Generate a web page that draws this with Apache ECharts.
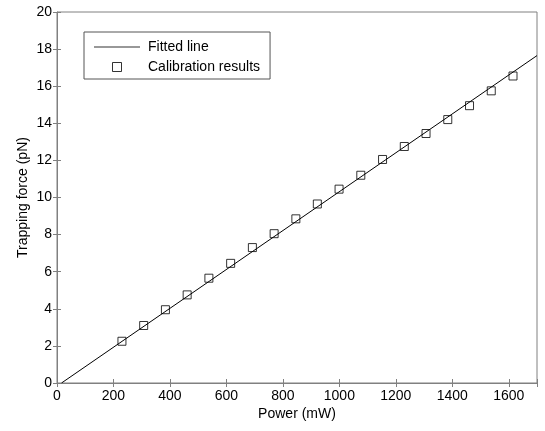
<!DOCTYPE html>
<html>
<head>
<meta charset="utf-8">
<script src="https://cdn.jsdelivr.net/npm/echarts@6/dist/echarts.min.js"></script>
<style>
  html, body { margin: 0; padding: 0; background: #fff; }
  #chart { width: 545px; height: 431px; }
</style>
</head>
<body>
<div id="chart"></div>
<script>
// calibration measurements
const powerMW = [230, 307, 384, 461, 538, 615, 692, 769, 846, 922, 999, 1076, 1153, 1230, 1307, 1384, 1461, 1538, 1615];
const forcePN = [2.25, 3.1, 3.95, 4.75, 5.65, 6.45, 7.3, 8.05, 8.85, 9.65, 10.45, 11.2, 12.05, 12.75, 13.45, 14.2, 14.95, 15.75, 16.55];

// fitted line end points
const fitX = [16, 1700];
const fitY = [0, 17.65];

const axisGray = '#808080';
const font = 'Liberation Sans, Arial, sans-serif';

const chart = echarts.init(document.getElementById('chart'));

const hiddenAxis = (extra) => Object.assign({
    type: 'value',
    axisLine: { show: false },
    axisTick: { show: true, inside: true, length: 4, lineStyle: { color: axisGray } },
    axisLabel: { show: false },
    splitLine: { show: false }
}, extra);

chart.setOption({
    animation: false,
    grid: {
        left: 57, right: 8, top: 12, bottom: 48,
        show: true, borderColor: axisGray, borderWidth: 1
    },
    legend: {
        orient: 'vertical',
        left: 84, top: 32,
        width: 184,
        padding: [8, 10, 5, 10],
        itemGap: 6,
        itemWidth: 46,
        itemHeight: 9,
        borderColor: '#555',
        borderWidth: 1,
        textStyle: { fontFamily: font, fontSize: 14, color: '#000', padding: [0, 0, 0, 3] },
        data: [
            {
                name: 'Fitted line',
                icon: 'path://M0,0 L46,0 L46,1 L0,1 Z',
                itemStyle: { color: '#333', borderWidth: 0 }
            },
            {
                name: 'Calibration results',
                icon: 'path://M0,0 L8,0 L8,8 L0,8 Z',
                itemStyle: { color: 'rgba(255,255,255,0)', borderColor: '#000', borderWidth: 1 }
            }
        ]
    },
    xAxis: [{
        type: 'value',
        min: 0, max: 1700, interval: 200,
        name: 'Power (mW)',
        nameLocation: 'middle',
        nameGap: 24,
        nameMoveOverlap: false,
        nameTextStyle: { fontFamily: font, fontSize: 14, color: '#000' },
        axisLine: { show: true, lineStyle: { color: axisGray } },
        axisTick: { inside: true, length: 4, lineStyle: { color: axisGray } },
        axisLabel: {
            fontFamily: font, fontSize: 14, color: '#000', margin: 6,
            formatter: v => (v % 200 === 0 ? String(v) : '')
        },
        splitLine: { show: false }
    }, hiddenAxis({ position: 'top', min: 0, max: 1700, interval: 200 })],
    yAxis: [{
        type: 'value',
        min: 0, max: 20, interval: 2,
        name: 'Trapping force (pN)',
        nameLocation: 'middle',
        nameGap: 27,
        nameMoveOverlap: false,
        nameTextStyle: { fontFamily: font, fontSize: 14, color: '#000' },
        axisLine: { show: true, lineStyle: { color: axisGray } },
        axisTick: { inside: true, length: 4, lineStyle: { color: axisGray } },
        axisLabel: { fontFamily: font, fontSize: 14, color: '#000', margin: 5 },
        splitLine: { show: false }
    }, hiddenAxis({ position: 'right', min: 0, max: 20, interval: 2 })],
    series: [
        {
            name: 'Fitted line',
            type: 'line',
            data: fitX.map((x, i) => [x, fitY[i]]),
            symbol: 'none',
            lineStyle: { color: '#000', width: 1 },
            itemStyle: { color: '#000' },
            z: 3
        },
        {
            name: 'Calibration results',
            type: 'scatter',
            data: powerMW.map((x, i) => [x, forcePN[i]]),
            symbol: 'rect',
            symbolSize: 8,
            itemStyle: { color: 'rgba(255,255,255,0)', borderColor: '#000', borderWidth: 1 },
            z: 2
        }
    ]
});
</script>
</body>
</html>
